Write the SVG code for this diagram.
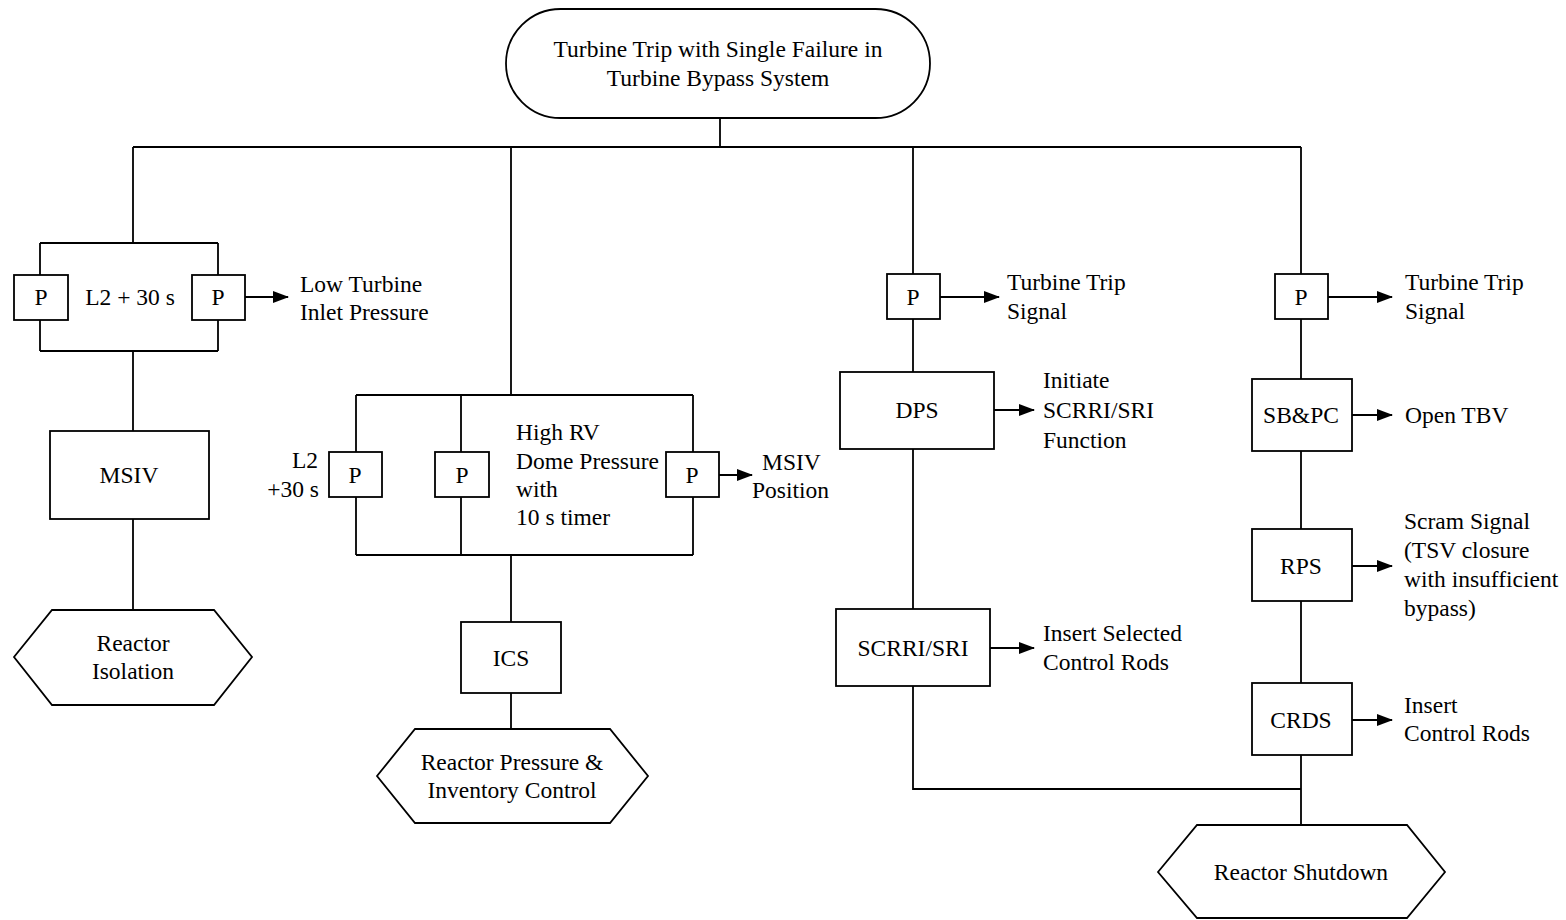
<svg xmlns="http://www.w3.org/2000/svg" width="1566" height="920" viewBox="0 0 1566 920">
<defs>
<marker id="ah" markerWidth="16" markerHeight="12" refX="15" refY="6" orient="auto" markerUnits="userSpaceOnUse">
<path d="M0,0 L16,6 L0,12 Z" fill="#000"/>
</marker>
<style>
.s{fill:#fff;stroke:#000;stroke-width:1.8}
.c{fill:none;stroke:#000;stroke-width:1.8}
.a{fill:none;stroke:#000;stroke-width:1.8;marker-end:url(#ah)}
text{font-family:"Liberation Serif","Times New Roman",serif;font-size:23.5px;fill:#000}
.m{text-anchor:middle}
.e{text-anchor:end}
</style>
</defs>
<rect width="1566" height="920" fill="#fff"/>
<g id="connectors">
<path class="c" d="M720,118 V147 M133,147 H1301 M133,147 V243 M511,147 V395 M913,147 V274 M1301,147 V274"/>
<path class="c" d="M40,243 H218 M40,243 V275 M218,243 V275 M40,320 V351 M218,320 V351 M40,351 H218 M133,351 V431 M133,519 V610"/>
<path class="c" d="M356,395 H693 M356,395 V452 M461,395 V452 M693,395 V452 M356,497 V555 M461,497 V555 M693,497 V555 M356,555 H693 M511,555 V622 M511,693 V729"/>
<path class="c" d="M913,319 V372 M913,449 V609 M913,686 V789 H1301"/>
<path class="c" d="M1301,319 V379 M1301,451 V529 M1301,601 V683 M1301,755 V825"/>
<line class="a" x1="245" y1="297" x2="288" y2="297"/>
<line class="a" x1="719" y1="475" x2="752" y2="475"/>
<line class="a" x1="940" y1="297" x2="999" y2="297"/>
<line class="a" x1="994" y1="410" x2="1034" y2="410"/>
<line class="a" x1="990" y1="648" x2="1034" y2="648"/>
<line class="a" x1="1328" y1="297" x2="1392" y2="297"/>
<line class="a" x1="1352" y1="415" x2="1392" y2="415"/>
<line class="a" x1="1352" y1="566" x2="1392" y2="566"/>
<line class="a" x1="1352" y1="720" x2="1392" y2="720"/>
</g>
<g id="start">
<rect class="s" x="506" y="9" width="424" height="109" rx="54.5" ry="54.5"/>
<text class="m" x="718" y="57">Turbine Trip with Single Failure in</text>
<text class="m" x="718" y="86">Turbine Bypass System</text>
</g>
<g id="left-p1"><rect class="s" x="14" y="275" width="54" height="45"/><text class="m" x="41" y="305">P</text></g>
<g id="left-p2"><rect class="s" x="192" y="275" width="53" height="45"/><text class="m" x="218" y="305">P</text></g>
<text class="m" x="130" y="305">L2 + 30 s</text>
<text x="300" y="292">Low Turbine</text>
<text x="300" y="320">Inlet Pressure</text>
<g id="msiv"><rect class="s" x="50" y="431" width="159" height="88"/><text class="m" x="129" y="483">MSIV</text></g>
<g id="reactor-isolation">
<polygon class="s" points="14,657 52,610 214,610 252,657 214,705 52,705"/>
<text class="m" x="133" y="651">Reactor</text>
<text class="m" x="133" y="679">Isolation</text>
</g>
<g id="mid-p1"><rect class="s" x="329" y="452" width="53" height="45"/><text class="m" x="355" y="483">P</text></g>
<g id="mid-p2"><rect class="s" x="435" y="452" width="54" height="45"/><text class="m" x="462" y="483">P</text></g>
<g id="mid-p3"><rect class="s" x="666" y="452" width="53" height="45"/><text class="m" x="692" y="483">P</text></g>
<text class="e" x="318" y="468">L2</text>
<text class="e" x="319" y="497">+30 s</text>
<text x="516" y="440">High RV</text>
<text x="516" y="469">Dome Pressure</text>
<text x="516" y="497">with</text>
<text x="516" y="525">10 s timer</text>
<text x="762" y="470">MSIV</text>
<text x="752" y="498">Position</text>
<g id="ics"><rect class="s" x="461" y="622" width="100" height="71"/><text class="m" x="511" y="666">ICS</text></g>
<g id="reactor-pressure">
<polygon class="s" points="377,776 415,729 610,729 648,776 610,823 415,823"/>
<text class="m" x="512" y="770">Reactor Pressure &amp;</text>
<text class="m" x="512" y="798">Inventory Control</text>
</g>
<g id="dps-p"><rect class="s" x="887" y="274" width="53" height="45"/><text class="m" x="913" y="305">P</text></g>
<text x="1007" y="290">Turbine Trip</text>
<text x="1007" y="319">Signal</text>
<g id="dps"><rect class="s" x="840" y="372" width="154" height="77"/><text class="m" x="917" y="418">DPS</text></g>
<text x="1043" y="388">Initiate</text>
<text x="1043" y="418">SCRRI/SRI</text>
<text x="1043" y="448">Function</text>
<g id="scrri"><rect class="s" x="836" y="609" width="154" height="77"/><text class="m" x="913" y="656">SCRRI/SRI</text></g>
<text x="1043" y="641">Insert Selected</text>
<text x="1043" y="670">Control Rods</text>
<g id="right-p"><rect class="s" x="1275" y="274" width="53" height="45"/><text class="m" x="1301" y="305">P</text></g>
<text x="1405" y="290">Turbine Trip</text>
<text x="1405" y="319">Signal</text>
<g id="sbpc"><rect class="s" x="1252" y="379" width="100" height="72"/><text class="m" x="1301" y="423">SB&amp;PC</text></g>
<text x="1405" y="423">Open TBV</text>
<g id="rps"><rect class="s" x="1252" y="529" width="100" height="72"/><text class="m" x="1301" y="574">RPS</text></g>
<text x="1404" y="529">Scram Signal</text>
<text x="1404" y="558">(TSV closure</text>
<text x="1404" y="587">with insufficient</text>
<text x="1404" y="616">bypass)</text>
<g id="crds"><rect class="s" x="1252" y="683" width="100" height="72"/><text class="m" x="1301" y="728">CRDS</text></g>
<text x="1404" y="713">Insert</text>
<text x="1404" y="741">Control Rods</text>
<g id="reactor-shutdown">
<polygon class="s" points="1158,872 1197,825 1407,825 1445,872 1407,918 1197,918"/>
<text class="m" x="1301" y="880">Reactor Shutdown</text>
</g>
</svg>
